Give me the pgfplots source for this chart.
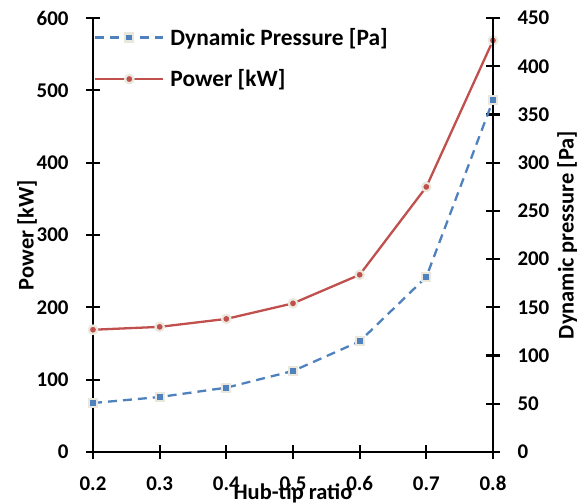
\documentclass[border=0pt]{standalone}
\usepackage{pgfplots}
\pgfplotsset{compat=1.18}
\usepackage{fontspec}
\setmainfont{Carlito}
\definecolor{dpblue}{HTML}{4F81BD}
\definecolor{pwred}{HTML}{C0504D}
\definecolor{halo}{HTML}{EAE7DC}
\begin{document}
\begin{tikzpicture}
\pgfplotsset{
  common/.style={
    scale only axis, width=400bp, height=434bp,
    at={(0,0)}, anchor=south west,
    xmin=0.2, xmax=0.8,
    xtick={0.2,0.3,...,0.8},
    tick align=center, major tick length=14bp,
    tick style={line width=2.2bp, black},
    axis line style={line width=2.6bp},
    /pgf/number format/assume math mode=true,
    tick label style={font=\fontsize{21}{24}\selectfont\bfseries},
    label style={font=\fontsize{22.5}{26}\selectfont\bfseries},
    clip=false,
  },
}
\path[use as bounding box] (-93bp,-52bp) rectangle (493bp,452bp);
\begin{axis}[common,
  axis x line*=bottom, axis y line*=left,
  ymin=0, ymax=600, ytick={0,100,...,600},
  xticklabel style={yshift=-14bp, /pgf/number format/.cd, fixed, fixed zerofill, precision=1},
  yticklabel style={xshift=-14bp},
  xlabel={Hub-tip ratio}, ylabel={Power [kW]},
  xlabel style={yshift=14bp},
  ylabel style={yshift=-7bp},
]
\addplot[pwred, line width=2.3bp, mark=*, mark size=4.2bp,
  mark options={fill=pwred, draw=halo, line width=2.2bp, solid}]
  coordinates {(0.2,169) (0.3,173) (0.4,184) (0.5,205.5) (0.6,245) (0.7,366.5) (0.8,569)};
\end{axis}
\begin{axis}[common,
  axis x line=none, axis y line*=right,
  ymin=0, ymax=450, ytick={0,50,...,450},
  yticklabel style={xshift=14bp},
  ylabel={Dynamic pressure [Pa]},
  ylabel style={yshift=-1bp},
  legend style={draw=none, fill=none, at={(0,1)}, anchor=north west,
    xshift=-2bp, yshift=-6bp,
    font=\fontsize{23.5}{27}\selectfont\bfseries,
    /tikz/row sep=19bp,
    /tikz/every odd column/.append style={column sep=4bp}},
  legend cell align=left,
  legend image code/.code={
    \draw[mark repeat=2,mark phase=2] plot coordinates {(0bp,0bp) (34bp,0bp) (68bp,0bp)};},
]
\addplot[dpblue, line width=2.3bp, dash pattern=on 9bp off 6bp, mark=square*, mark size=4bp,
  mark options={fill=dpblue, draw=halo, line width=2.2bp, solid}]
  coordinates {(0.2,50.8) (0.3,57) (0.4,66.7) (0.5,84) (0.6,114.7) (0.7,181.5) (0.8,364.6)};
\addlegendentry{Dynamic Pressure [Pa]}
\addlegendimage{pwred, line width=2.3bp, mark=*, mark size=4.2bp,
  mark options={fill=pwred, draw=halo, line width=2.2bp, solid}}
\addlegendentry{Power [kW]}
\end{axis}
\end{tikzpicture}
\end{document}
